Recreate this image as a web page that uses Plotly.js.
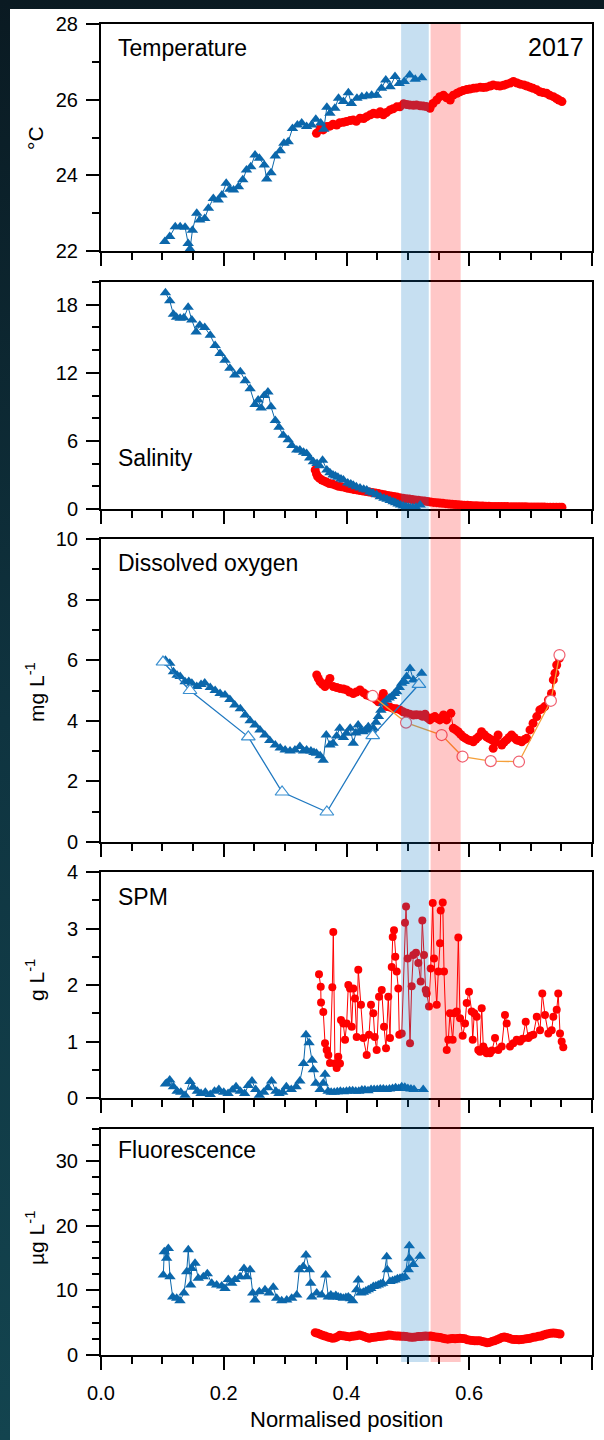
<!DOCTYPE html>
<html><head><meta charset="utf-8">
<script src="https://cdn.plot.ly/plotly-3.0.1.min.js"></script>
<style>
html,body{margin:0;padding:0;width:604px;height:1440px;overflow:hidden;background:linear-gradient(180deg,#0a1a22 0%,#0f3440 50%,#13444f 100%);}
#bg{position:absolute;left:10px;top:9px;width:594px;height:1431px;background:#fff;}
#chart{position:absolute;left:0;top:0;width:604px;height:1440px;}
</style></head><body><div id="bg"></div><div id="chart"></div>
<script>
// ---------- DATA ----------
const panelLabels = ["Temperature","Salinity","Dissolved oxygen","SPM","Fluorescence"];
const yTitles = ["°C","","mg L<sup>-1</sup>","g L<sup>-1</sup>","µg L<sup>-1</sup>"];
const yearLabel = "2017";
const xTitle = "Normalised position";
const bandBlue = [0.489, 0.534];
const bandPink = [0.537, 0.586];

// Temperature
const tempBlueX = [0.104,0.112,0.121,0.129,0.137,0.142,0.145,0.149,0.156,0.161,0.169,0.175,0.183,0.191,0.197,0.204,0.210,0.216,0.224,0.231,0.237,0.244,0.251,0.258,0.266,0.270,0.277,0.284,0.292,0.298,0.305,0.312,0.320,0.327,0.335,0.343,0.350,0.358,0.363,0.368,0.373,0.381,0.387,0.395,0.403,0.408,0.417,0.425,0.433,0.441,0.449,0.457,0.464,0.471,0.479,0.486,0.494,0.503,0.512,0.5225];
const tempBlueY = [22.25,22.38,22.64,22.64,22.63,22.2,22.05,22.55,23.0,22.82,22.86,23.13,23.39,23.35,23.48,23.79,23.63,23.61,23.70,23.88,24.14,24.23,24.54,24.45,24.27,23.9,24.07,24.51,24.65,24.85,24.89,25.24,25.33,25.38,25.29,25.33,25.48,25.38,25.22,25.8,25.64,25.77,26.04,25.95,26.18,25.90,26.04,26.08,26.1,26.12,26.12,26.30,26.52,26.34,26.61,26.43,26.48,26.65,26.54,26.58];
const tempRedX = [0.351,0.357,0.362,0.368,0.373,0.378,0.384,0.389,0.395,0.400,0.406,0.411,0.416,0.422,0.428,0.433,0.439,0.444,0.450,0.455,0.460,0.465,0.471,0.476,0.482,0.487,0.493,0.498,0.503,0.509,0.514,0.520,0.525,0.530,0.536,0.541,0.547,0.552,0.558,0.563,0.569,0.574,0.580,0.585,0.590,0.596,0.601,0.607,0.612,0.618,0.623,0.628,0.634,0.639,0.645,0.650,0.656,0.661,0.667,0.672,0.678,0.683,0.689,0.694,0.699,0.704,0.710,0.715,0.720,0.726,0.731,0.737,0.742,0.746,0.751];
const tempRedY = [25.11,25.24,25.2,25.29,25.3,25.35,25.33,25.39,25.4,25.42,25.45,25.46,25.43,25.51,25.5,25.55,25.6,25.64,25.62,25.68,25.6,25.66,25.73,25.76,25.81,25.81,25.89,25.87,25.86,25.85,25.86,25.84,25.83,25.82,25.77,25.90,25.99,26.08,26.12,26.05,25.99,26.12,26.17,26.21,26.24,26.27,26.28,26.30,26.31,26.33,26.32,26.33,26.36,26.39,26.37,26.36,26.38,26.41,26.44,26.48,26.44,26.41,26.39,26.36,26.33,26.30,26.26,26.21,26.19,26.17,26.12,26.08,26.03,25.99,25.95];

// Salinity
const salBlueX = [0.105,0.112,0.118,0.123,0.129,0.135,0.142,0.148,0.155,0.161,0.169,0.178,0.186,0.194,0.202,0.210,0.218,0.227,0.235,0.243,0.251,0.256,0.261,0.266,0.272,0.277,0.284,0.290,0.297,0.305,0.311,0.319,0.324,0.330,0.335,0.340,0.346,0.352,0.356,0.361,0.368,0.373,0.378,0.382,0.386,0.391,0.395,0.402,0.407,0.411,0.416,0.422,0.428,0.433,0.438,0.443,0.449,0.455,0.461,0.466,0.471,0.476,0.480,0.484,0.488,0.4925,0.497,0.5007,0.504,0.508,0.513,0.520];
const salBlueY = [19.06,18.35,17.15,16.9,16.8,16.85,17.77,16.65,15.6,16.2,16.0,15.3,14.4,13.7,13.1,12.4,11.8,12.1,11.3,10.6,9.2,9.6,8.9,10.0,10.3,9.0,7.8,7.2,6.5,6.1,5.6,5.2,5.2,5.0,4.9,4.5,4.17,4.0,3.8,4.3,3.44,3.2,3.0,2.9,2.8,2.65,2.56,2.3,2.2,2.1,1.95,1.85,1.75,1.67,1.5,1.4,1.25,1.08,0.95,0.85,0.75,0.64,0.55,0.45,0.35,0.26,0.2,0.15,0.12,0.12,0.15,0.35];
const salRedX = [0.349,0.351,0.353,0.356,0.360,0.364,0.368,0.372,0.377,0.382,0.387,0.392,0.397,0.402,0.407,0.412,0.417,0.422,0.427,0.432,0.437,0.442,0.447,0.452,0.457,0.462,0.467,0.472,0.477,0.482,0.487,0.492,0.497,0.502,0.507,0.512,0.517,0.522,0.527,0.532,0.537,0.542,0.547,0.552,0.557,0.562,0.567,0.572,0.577,0.582,0.587,0.592,0.597,0.602,0.607,0.612,0.617,0.622,0.627,0.632,0.637,0.642,0.647,0.652,0.657,0.662,0.667,0.672,0.677,0.682,0.687,0.692,0.697,0.702,0.707,0.712,0.717,0.722,0.727,0.732,0.737,0.742,0.747,0.751];
const salRedY = [3.44,3.1,2.85,2.7,2.55,2.45,2.35,2.25,2.2,2.1,2.0,1.95,1.9,1.82,1.78,1.72,1.68,1.62,1.58,1.54,1.5,1.45,1.4,1.36,1.3,1.25,1.2,1.15,1.1,1.05,1.0,0.95,0.9,0.88,0.84,0.8,0.76,0.72,0.7,0.66,0.62,0.58,0.56,0.53,0.5,0.47,0.44,0.42,0.4,0.38,0.36,0.34,0.32,0.3,0.29,0.28,0.27,0.26,0.25,0.24,0.23,0.23,0.22,0.22,0.21,0.21,0.2,0.2,0.2,0.19,0.19,0.19,0.18,0.18,0.18,0.17,0.17,0.17,0.16,0.16,0.16,0.15,0.15,0.15];

// Dissolved oxygen
const doBlueX = [0.105,0.112,0.118,0.124,0.129,0.137,0.143,0.148,0.156,0.163,0.169,0.178,0.186,0.194,0.202,0.210,0.218,0.227,0.235,0.243,0.251,0.259,0.267,0.275,0.284,0.292,0.300,0.308,0.316,0.324,0.330,0.335,0.342,0.347,0.351,0.357,0.362,0.367,0.373,0.378,0.384,0.389,0.395,0.400,0.406,0.411,0.415,0.419,0.423,0.427,0.431,0.4355,0.44,0.4437,0.448,0.452,0.456,0.460,0.4655,0.4695,0.4736,0.478,0.4818,0.486,0.490,0.494,0.498,0.5035,0.509,0.5225];
const doBlueY = [6.0,5.9,5.62,5.5,5.46,5.29,5.3,5.24,5.13,5.2,5.25,5.1,5.0,4.9,4.85,4.7,4.52,4.4,4.19,4.0,3.86,3.7,3.53,3.35,3.2,3.1,3.04,3.0,3.04,3.15,3.0,3.04,3.0,2.95,2.93,2.85,2.7,3.53,3.2,3.26,3.5,3.75,3.45,3.59,3.75,3.26,3.6,3.86,3.7,3.64,3.7,3.8,3.7,3.75,3.95,4.14,4.35,4.58,4.69,4.75,4.8,4.9,4.96,5.1,5.24,5.3,5.46,5.73,5.35,5.57];
const doBlueOpenX = [0.101,0.145,0.240,0.295,0.368,0.4427,0.518];
const doBlueOpenY = [5.94,5.0,3.47,1.65,0.99,3.51,5.2];
const doRedX = [0.3515,0.354,0.357,0.361,0.365,0.369,0.373,0.3785,0.384,0.389,0.395,0.400,0.405,0.411,0.416,0.422,0.428,0.433,0.438,0.4437,0.448,0.452,0.456,0.460,0.4655,0.471,0.476,0.481,0.487,0.492,0.498,0.503,0.509,0.514,0.520,0.524,0.528,0.532,0.536,0.540,0.544,0.548,0.552,0.558,0.563,0.570,0.574,0.578,0.582,0.586,0.590,0.594,0.598,0.602,0.6066,0.611,0.615,0.620,0.624,0.628,0.632,0.6366,0.639,0.643,0.647,0.653,0.657,0.661,0.665,0.669,0.673,0.677,0.681,0.6855,0.69,0.6936,0.699,0.704,0.710,0.715,0.719,0.723,0.729,0.734,0.737,0.7397,0.7425,0.7467];
const doRedY = [5.51,5.4,5.29,5.2,5.13,5.25,5.4,5.13,5.1,5.07,5.05,5.02,4.95,4.9,4.95,5.02,4.92,4.85,4.82,4.8,4.7,4.63,4.75,4.9,4.47,4.45,4.41,4.4,4.36,4.3,4.25,4.22,4.19,4.2,4.19,4.15,4.22,4.1,4.03,4.1,4.14,4.08,4.03,4.19,4.03,4.25,3.75,3.7,3.64,3.55,3.47,3.42,3.37,3.35,3.31,3.4,3.47,3.64,3.55,3.47,3.42,3.37,3.09,3.3,3.53,3.2,3.3,3.37,3.45,3.53,3.45,3.37,3.35,3.31,3.38,3.42,3.7,3.92,4.14,4.36,4.4,4.47,4.69,4.9,5.35,5.57,5.84,6.06];
const doRedOpenX = [0.4426,0.497,0.555,0.589,0.635,0.681,0.733,0.747];
const doRedOpenY = [4.82,3.94,3.53,2.82,2.67,2.65,4.66,6.17];

// SPM
const spmBlueX = [0.105,0.107,0.112,0.118,0.124,0.130,0.137,0.145,0.150,0.157,0.163,0.170,0.178,0.185,0.192,0.200,0.207,0.214,0.220,0.227,0.234,0.240,0.246,0.252,0.258,0.265,0.272,0.278,0.285,0.290,0.296,0.302,0.310,0.318,0.324,0.330,0.334,0.339,0.344,0.346,0.350,0.357,0.362,0.365,0.370,0.375,0.380,0.385,0.390,0.395,0.400,0.405,0.410,0.415,0.420,0.425,0.430,0.435,0.440,0.445,0.450,0.455,0.460,0.465,0.470,0.475,0.480,0.485,0.490,0.495,0.500,0.505,0.510,0.525];
const spmBlueY = [0.25,0.26,0.32,0.2,0.12,0.1,0.05,0.29,0.19,0.12,0.08,0.1,0.06,0.12,0.15,0.1,0.08,0.14,0.2,0.12,0.08,0.22,0.3,0.15,0.05,0.1,0.18,0.3,0.12,0.08,0.1,0.2,0.15,0.2,0.3,0.61,1.12,0.98,0.67,0.5,0.26,0.15,0.26,0.42,0.12,0.1,0.1,0.11,0.12,0.11,0.12,0.13,0.13,0.12,0.12,0.14,0.14,0.13,0.15,0.15,0.15,0.16,0.16,0.15,0.16,0.17,0.18,0.17,0.2,0.19,0.17,0.16,0.15,0.15];
const spmRedX = [0.3552,0.358,0.3585,0.3622,0.365,0.3677,0.3704,0.3731,0.3769,0.3785,0.3812,0.384,0.3866,0.3894,0.391,0.3948,0.3976,0.4003,0.403,0.4057,0.4085,0.4111,0.4138,0.4166,0.4192,0.4236,0.4274,0.4329,0.4367,0.4399,0.4437,0.446,0.4492,0.453,0.4574,0.4611,0.4644,0.4681,0.4709,0.4737,0.4753,0.4774,0.4795,0.4818,0.4844,0.486,0.490,0.4953,0.497,0.4997,0.5035,0.5062,0.5088,0.5132,0.517,0.5209,0.5235,0.5263,0.529,0.5307,0.5344,0.5372,0.5405,0.5426,0.547,0.5496,0.5524,0.5535,0.5568,0.5589,0.5633,0.5659,0.5686,0.573,0.5756,0.5795,0.5822,0.585,0.5893,0.5931,0.5958,0.5996,0.604,0.6056,0.6082,0.6121,0.6147,0.6175,0.6203,0.6229,0.6255,0.6284,0.631,0.6338,0.637,0.642,0.6473,0.6529,0.6582,0.661,0.6664,0.6718,0.6773,0.6827,0.687,0.692,0.6962,0.700,0.7044,0.71,0.7153,0.719,0.7234,0.7288,0.7343,0.737,0.7425,0.745,0.7479,0.7506,0.7532];
const spmRedY = [2.19,1.97,1.69,1.52,0.97,0.85,0.76,0.62,1.96,2.94,0.61,0.53,0.73,0.61,1.38,1.32,1.03,1.32,2.0,1.94,1.26,1.94,1.76,1.08,2.27,1.65,1.06,0.76,1.12,1.65,1.5,1.08,0.85,1.79,1.91,1.26,0.88,1.79,1.06,2.32,2.85,2.97,2.5,2.24,1.94,1.12,1.14,3.10,3.39,2.47,0.97,1.98,2.53,2.57,2.39,2.06,3.14,2.53,1.91,1.85,1.62,2.29,3.45,2.47,1.65,2.24,2.74,3.32,3.46,2.24,0.85,1.03,1.5,1.03,1.5,1.53,2.84,1.41,1.10,1.32,1.68,1.88,1.53,1.03,1.5,1.44,0.85,0.82,1.59,0.91,0.85,0.79,0.82,0.79,0.84,1.06,0.85,0.91,1.47,1.32,0.91,0.97,1.03,1.0,1.05,1.35,1.06,1.1,1.12,1.44,1.2,1.85,1.47,1.14,1.2,1.44,1.56,1.85,1.14,1.0,0.9];

// Fluorescence
const fluBlueX = [0.1015,0.1031,0.107,0.1097,0.1124,0.1168,0.1233,0.1287,0.1352,0.1396,0.1422,0.1461,0.1478,0.1532,0.1585,0.1667,0.1732,0.1804,0.1885,0.1967,0.202,0.2074,0.213,0.2183,0.2265,0.233,0.2374,0.2428,0.2472,0.2509,0.2579,0.2672,0.2742,0.2807,0.2863,0.2944,0.3026,0.3107,0.3189,0.3231,0.3296,0.334,0.3394,0.3417,0.3433,0.3515,0.3596,0.3661,0.3704,0.3745,0.3785,0.3826,0.3866,0.3907,0.3948,0.399,0.403,0.4065,0.4101,0.4166,0.4192,0.4233,0.4274,0.4315,0.4355,0.4396,0.4437,0.4478,0.4518,0.4554,0.459,0.4655,0.4665,0.4709,0.475,0.479,0.483,0.4872,0.491,0.4953,0.5023,0.5023,0.5007,0.5088,0.5198];
const fluBlueY = [12.4,16.0,15.0,16.5,12.1,9.0,8.8,8.4,9.6,12.9,16.3,10.85,13.4,14.2,11.9,12.1,12.6,11.1,10.85,10.7,10.3,11.7,11.1,11.7,12.1,13.4,12.1,13.2,9.6,8.5,9.8,10.1,9.6,10.5,8.8,8.4,8.5,8.8,9.3,13.2,13.7,15.5,13.2,11.1,9.0,9.6,9.3,12.4,9.0,9.3,9.0,9.2,9.0,8.9,8.8,8.9,9.0,8.7,8.4,10.1,11.6,9.6,9.7,9.9,10.1,10.3,10.6,10.7,10.85,11.0,11.1,15.2,13.2,11.4,11.5,11.6,11.8,11.9,12.0,12.1,16.9,15.0,13.2,14.0,15.3];
const fluRedX = [0.349,0.353,0.357,0.361,0.365,0.369,0.373,0.377,0.381,0.385,0.389,0.393,0.397,0.401,0.405,0.409,0.413,0.417,0.421,0.425,0.429,0.433,0.437,0.441,0.445,0.449,0.453,0.457,0.461,0.465,0.469,0.473,0.477,0.481,0.485,0.489,0.493,0.497,0.501,0.505,0.509,0.513,0.517,0.521,0.525,0.529,0.533,0.537,0.541,0.545,0.549,0.553,0.557,0.561,0.565,0.569,0.573,0.577,0.581,0.585,0.589,0.593,0.597,0.601,0.605,0.609,0.613,0.617,0.621,0.625,0.629,0.633,0.637,0.641,0.645,0.649,0.653,0.657,0.661,0.665,0.669,0.673,0.677,0.681,0.685,0.689,0.693,0.697,0.701,0.705,0.709,0.713,0.717,0.721,0.725,0.729,0.733,0.737,0.741,0.745,0.748];
const fluRedY = [3.46,3.35,3.2,3.05,2.95,2.8,2.7,2.6,2.65,2.8,3.05,3.0,2.95,2.85,2.8,2.9,2.95,3.0,3.1,3.0,2.85,2.7,2.6,2.7,2.75,2.8,2.85,2.9,2.95,3.0,3.1,3.05,3.0,2.95,2.95,2.9,2.9,2.85,2.8,2.75,2.75,2.8,2.85,2.85,2.9,2.95,2.9,2.95,2.85,2.8,2.75,2.7,2.6,2.5,2.45,2.5,2.55,2.5,2.55,2.6,2.55,2.5,2.35,2.3,2.25,2.2,2.2,2.2,2.1,2.0,1.9,1.95,2.1,2.2,2.35,2.5,2.7,2.8,2.7,2.6,2.45,2.4,2.4,2.35,2.4,2.45,2.5,2.55,2.65,2.75,2.8,2.9,2.95,3.1,3.2,3.3,3.36,3.4,3.36,3.3,3.26];

// ---------- STYLE / LAYOUT ----------
const BLUE = '#0b67ab', RED = '#ff0000';
const FONT = 'Liberation Sans, Arial, Helvetica, sans-serif';
const L = 101, R = 592, T = 24, B = 1355;
const px2x = p => (p - L) / (R - L);
const py2y = p => (B - p) / (B - T);
const doms = [[py2y(251), 1], [py2y(509), py2y(282)], [py2y(842), py2y(539)], [py2y(1098), py2y(872)], [0, py2y(1129)]];
const yRanges = [[22,28],[0,20],[0,10],[0,4],[0,35]];
const yDticks = [2,6,2,1,10];
const yMinor = [1,2,1,0.5,2.5];

const sfx = i => i === 0 ? '' : String(i + 1);

function filled(x, y, i, color, sym, size) {
  return {type:'scatter', mode:'lines+markers', x, y, xaxis:'x'+sfx(i), yaxis:'y'+sfx(i),
    line:{color, width:1}, marker:{symbol:sym, size, color, line:{width:0}}, hoverinfo:'skip', showlegend:false};
}
function open(x, y, i, lineColor, edge, sym, size) {
  return {type:'scatter', mode:'lines+markers', x, y, xaxis:'x'+sfx(i), yaxis:'y'+sfx(i),
    line:{color:lineColor, width:1.3}, marker:{symbol:sym, size, color:'#ffffff', line:{width:1.2, color:edge}}, hoverinfo:'skip', showlegend:false};
}

const data = [
  filled(tempRedX, tempRedY, 0, RED, 'circle', 9),
  filled(tempBlueX, tempBlueY, 0, BLUE, 'triangle-up', 10),
  filled(salRedX, salRedY, 1, RED, 'circle', 9),
  filled(salBlueX, salBlueY, 1, BLUE, 'triangle-up', 10),
  filled(doRedX, doRedY, 2, RED, 'circle', 9),
  filled(doBlueX, doBlueY, 2, BLUE, 'triangle-up', 10),
  open(doBlueOpenX, doBlueOpenY, 2, '#1f78c0', '#3a8fd0', 'triangle-up', 12),
  open(doRedOpenX, doRedOpenY, 2, '#f5a03a', '#f06070', 'circle', 11),
  filled(spmBlueX, spmBlueY, 3, BLUE, 'triangle-up', 10),
  filled(spmRedX, spmRedY, 3, RED, 'circle', 8),
  filled(fluBlueX, fluBlueY, 4, BLUE, 'triangle-up', 10),
  filled(fluRedX, fluRedY, 4, RED, 'circle', 9)
];

const layout = {
  width:604, height:1440, margin:{l:L, r:604-R, t:T, b:1440-B, pad:0},
  paper_bgcolor:'rgba(0,0,0,0)', plot_bgcolor:'rgba(0,0,0,0)',
  font:{family:FONT, color:'#000', size:20}, showlegend:false,
  shapes:[], annotations:[]
};

for (let i = 0; i < 5; i++) {
  const s = sfx(i);
  layout['xaxis'+s] = {domain:[0,1], anchor:'y'+s, range:[0,0.8], tick0:0, dtick:0.2, tickformat:'.1f',
    ticks:'outside', ticklen:13, tickwidth:2, tickcolor:'#000', showline:true, linewidth:2, linecolor:'#000',
    mirror:true, showgrid:false, zeroline:false, showticklabels:i===4, tickfont:{size:20, family:FONT},
    ticklabelstandoff:6,
    minor:{tick0:0, dtick:0.05, ticks:'outside', ticklen:7, tickwidth:2, tickcolor:'#000', showgrid:false}};
  layout['yaxis'+s] = {domain:doms[i], anchor:'x'+s, range:yRanges[i], tick0:0, dtick:yDticks[i],
    ticks:'outside', ticklen:13, tickwidth:2, tickcolor:'#000', showline:true, linewidth:2, linecolor:'#000',
    mirror:true, showgrid:false, zeroline:false, tickfont:{size:20, family:FONT}, ticklabelstandoff:4,
    minor:{tick0:0, dtick:yMinor[i], ticks:'outside', ticklen:7, tickwidth:2, tickcolor:'#000', showgrid:false}};
}

// Bands
layout.shapes.push({type:'rect', xref:'x5', yref:'paper', x0:bandBlue[0], x1:bandBlue[1], y0:py2y(1362), y1:1,
  fillcolor:'rgba(16,123,198,0.24)', line:{width:0}, layer:'above'});
layout.shapes.push({type:'rect', xref:'x5', yref:'paper', x0:bandPink[0], x1:bandPink[1], y0:py2y(1362), y1:1,
  fillcolor:'rgba(255,0,0,0.22)', line:{width:0}, layer:'above'});

// Panel labels
const labelY = [48, 458, 563.5, 897, 1149.5];
panelLabels.forEach((t, i) => layout.annotations.push({text:t, xref:'paper', yref:'paper', x:px2x(116), y:py2y(labelY[i]),
  xanchor:'left', yanchor:'middle', showarrow:false, font:{size:23, family:FONT, color:'#000'}}));
layout.annotations.push({text:yearLabel, xref:'paper', yref:'paper', x:px2x(586), y:py2y(47), xanchor:'right', yanchor:'middle',
  showarrow:false, font:{size:25, family:FONT, color:'#000'}});

// Y titles
const yTitleY = [138, 395, 692, 980, 1238];
yTitles.forEach((t, i) => { if (t) layout.annotations.push({text:t, xref:'paper', yref:'paper', x:px2x(35), y:py2y(yTitleY[i]),
  xanchor:'center', yanchor:'middle', textangle:-90, showarrow:false, font:{size:21, family:FONT, color:'#000'}}); });

// X title
layout.annotations.push({text:xTitle, xref:'paper', yref:'paper', x:0.5, y:py2y(1420), xanchor:'center', yanchor:'middle',
  showarrow:false, font:{size:22, family:FONT, color:'#000'}});

Plotly.newPlot('chart', data, layout, {staticPlot:true, displayModeBar:false});
</script></body></html>
